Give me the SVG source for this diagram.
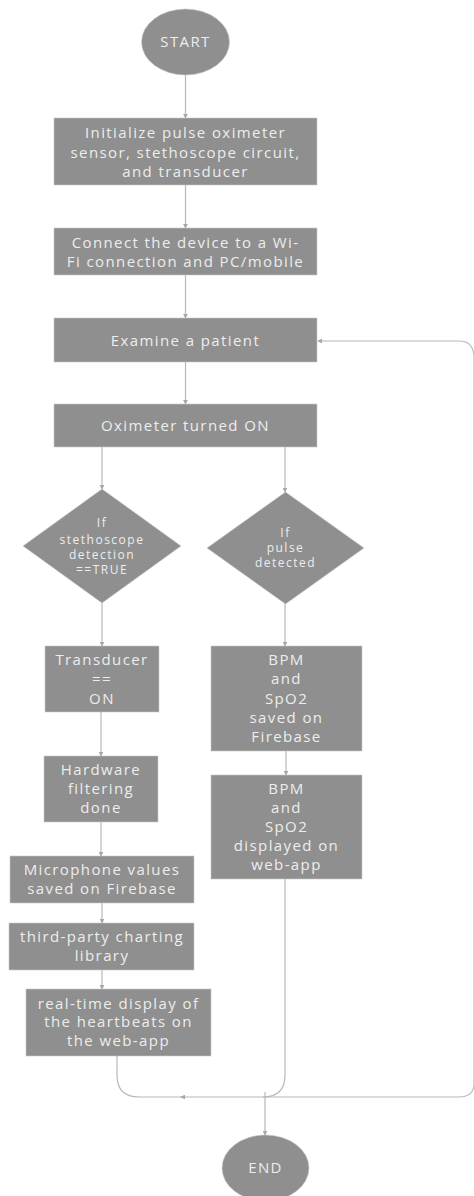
<svg xmlns="http://www.w3.org/2000/svg" width="474" height="1196" viewBox="0 0 474 1196">
<style>
.n{fill:#8f8f8f;stroke:#c8c8c8;stroke-width:0.6}
.t{font-family:"Open Sans",Inter,"Liberation Sans",sans-serif;font-size:15px;fill:#ededed;text-anchor:middle;letter-spacing:1.4px}
.s{font-size:12px;letter-spacing:1.5px}
.c{fill:none;stroke:#b8b8b8;stroke-width:1.2}
</style>
<defs>
<marker id="a" viewBox="0 0 6 6" refX="5" refY="3" markerWidth="4" markerHeight="4" orient="auto"><path d="M0,0 L6,3 L0,6 z" fill="#a8a8a8"/></marker>
</defs>
<rect width="474" height="1196" fill="#ffffff"/>
<g id="connectors">
<path class="c" d="M185.5,75 V118" marker-end="url(#a)"/>
<path class="c" d="M185.5,185 V228" marker-end="url(#a)"/>
<path class="c" d="M185.5,275 V318" marker-end="url(#a)"/>
<path class="c" d="M185.5,362 V404" marker-end="url(#a)"/>
<path class="c" d="M102,447 V489" marker-end="url(#a)"/>
<path class="c" d="M285,447 V492" marker-end="url(#a)"/>
<path class="c" d="M102,603 V646" marker-end="url(#a)"/>
<path class="c" d="M285,604 V646" marker-end="url(#a)"/>
<path class="c" d="M101,712 V756" marker-end="url(#a)"/>
<path class="c" d="M101,822 V856" marker-end="url(#a)"/>
<path class="c" d="M102,903 V923" marker-end="url(#a)"/>
<path class="c" d="M102,970 V989" marker-end="url(#a)"/>
<path class="c" d="M286,751 V775" marker-end="url(#a)"/>
<path class="c" d="M117,1056 V1075 Q117,1097 139,1097 H265"/>
<path class="c" d="M182,1097 H181" marker-end="url(#a)"/>
<path class="c" d="M285,879 V1075 Q285,1097 263,1097 H265"/>
<path class="c" d="M265,1097 H459 Q473,1097 474,1085 V356 Q473,341 459,341 H318" marker-end="url(#a)"/>
<path class="c" d="M265,1092 V1135" marker-end="url(#a)"/>
</g>
<g id="start"><ellipse class="n" cx="185.5" cy="42" rx="44" ry="33"/><text class="t" x="185.5" y="47">START</text></g>
<g id="init"><rect class="n" x="54" y="118" width="263" height="67"/><text class="t" x="185.5" y="138">Initialize pulse oximeter</text><text class="t" x="185.5" y="158">sensor, stethoscope circuit,</text><text class="t" x="185.5" y="177">and transducer</text></g>
<g id="connect"><rect class="n" x="54" y="228" width="263" height="47"/><text class="t" x="185.5" y="248">Connect the device to a Wi-</text><text class="t" x="185.5" y="267">Fi connection and PC/mobile</text></g>
<g id="examine"><rect class="n" x="54" y="318" width="263" height="44"/><text class="t" x="185.5" y="346">Examine a patient</text></g>
<g id="oximeter"><rect class="n" x="54" y="404" width="263" height="43"/><text class="t" x="185.5" y="431">Oximeter turned ON</text></g>
<g id="dec-steth"><polygon class="n" points="102,489 181,546 102,603 23,546"/><text class="t s" x="102" y="527">If</text><text class="t s" x="102" y="544">stethoscope</text><text class="t s" x="102" y="559">detection</text><text class="t s" x="102" y="574">==TRUE</text></g>
<g id="dec-pulse"><polygon class="n" points="285.5,492 364,548 285.5,604 207,548"/><text class="t s" x="285.5" y="537">If</text><text class="t s" x="285.5" y="552">pulse</text><text class="t s" x="285.5" y="567">detected</text></g>
<g id="transducer"><rect class="n" x="45" y="646" width="114" height="66"/><text class="t" x="102" y="665">Transducer</text><text class="t" x="102" y="684">==</text><text class="t" x="102" y="704">ON</text></g>
<g id="hardware"><rect class="n" x="44" y="756" width="114" height="66"/><text class="t" x="101" y="775">Hardware</text><text class="t" x="101" y="794">filtering</text><text class="t" x="101" y="813">done</text></g>
<g id="microphone"><rect class="n" x="10" y="856" width="184" height="47"/><text class="t" x="102" y="875">Microphone values</text><text class="t" x="102" y="894">saved on Firebase</text></g>
<g id="charting"><rect class="n" x="9" y="923" width="185" height="47"/><text class="t" x="102" y="942">third-party charting</text><text class="t" x="102" y="961">library</text></g>
<g id="realtime"><rect class="n" x="26" y="989" width="185" height="67"/><text class="t" x="118.5" y="1009">real-time display of</text><text class="t" x="118.5" y="1027">the heartbeats on</text><text class="t" x="118.5" y="1046">the web-app</text></g>
<g id="bpm-saved"><rect class="n" x="211" y="646" width="151" height="105"/><text class="t" x="286.5" y="665">BPM</text><text class="t" x="286.5" y="684">and</text><text class="t" x="286.5" y="704">SpO2</text><text class="t" x="286.5" y="723">saved on</text><text class="t" x="286.5" y="742">Firebase</text></g>
<g id="bpm-displayed"><rect class="n" x="211" y="775" width="151" height="104"/><text class="t" x="286.5" y="794">BPM</text><text class="t" x="286.5" y="813">and</text><text class="t" x="286.5" y="832">SpO2</text><text class="t" x="286.5" y="851">displayed on</text><text class="t" x="286.5" y="870">web-app</text></g>
<g id="end"><ellipse class="n" cx="265.5" cy="1168" rx="43.5" ry="33"/><text class="t" x="265.5" y="1173">END</text></g>
</svg>
